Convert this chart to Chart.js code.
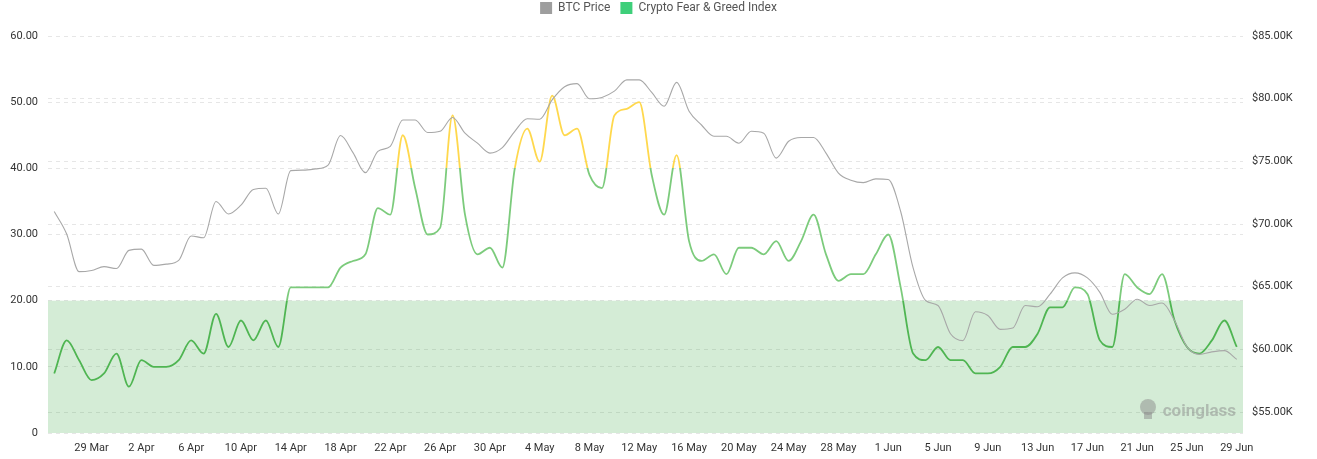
<!DOCTYPE html>
<html>
<head>
<meta charset="utf-8">
<script src="https://cdn.jsdelivr.net/npm/chart.js@4.4.1/dist/chart.umd.min.js"></script>
<style>
    html, body { margin: 0; padding: 0; background: #fff; }
    #wrap { width: 1317px; height: 459px; }
</style>
</head>
<body>
<div id="wrap"><canvas id="chart"></canvas></div>
<script>
// 날짜 (26 Mar ~ 29 Jun, 하루 단위)
const dates = [
    '26 Mar', '27 Mar', '28 Mar', '29 Mar', '30 Mar', '31 Mar',
    '1 Apr', '2 Apr', '3 Apr', '4 Apr', '5 Apr', '6 Apr', '7 Apr', '8 Apr', '9 Apr', '10 Apr',
    '11 Apr', '12 Apr', '13 Apr', '14 Apr', '15 Apr', '16 Apr', '17 Apr', '18 Apr', '19 Apr', '20 Apr',
    '21 Apr', '22 Apr', '23 Apr', '24 Apr', '25 Apr', '26 Apr', '27 Apr', '28 Apr', '29 Apr', '30 Apr',
    '1 May', '2 May', '3 May', '4 May', '5 May', '6 May', '7 May', '8 May', '9 May', '10 May',
    '11 May', '12 May', '13 May', '14 May', '15 May', '16 May', '17 May', '18 May', '19 May', '20 May',
    '21 May', '22 May', '23 May', '24 May', '25 May', '26 May', '27 May', '28 May', '29 May', '30 May', '31 May',
    '1 Jun', '2 Jun', '3 Jun', '4 Jun', '5 Jun', '6 Jun', '7 Jun', '8 Jun', '9 Jun', '10 Jun',
    '11 Jun', '12 Jun', '13 Jun', '14 Jun', '15 Jun', '16 Jun', '17 Jun', '18 Jun', '19 Jun', '20 Jun',
    '21 Jun', '22 Jun', '23 Jun', '24 Jun', '25 Jun', '26 Jun', '27 Jun', '28 Jun', '29 Jun'
];

const fearGreed = [
    9, 14, 11, 8, 9, 12,
    7, 11, 10, 10, 11, 14, 12, 18, 13, 17,
    14, 17, 13, 22, 22, 22, 22, 25, 26, 27,
    34, 33, 45, 37, 30, 31, 48, 33, 27, 28,
    25, 40, 46, 41, 51, 45, 46, 39, 37, 48,
    49, 50, 39, 33, 42, 29, 26, 27, 24, 28,
    28, 27, 29, 26, 29, 33, 27, 23, 24, 24, 27,
    30, 22, 12, 11, 13, 11, 11, 9, 9, 10,
    13, 13, 15, 19, 19, 22, 21, 14, 13, 24,
    22, 21, 24, 17, 13, 12, 14, 17, 13
];

const btcPrice = [
    71000, 69200, 66200, 66300, 66600, 66450,
    67900, 68000, 66700, 66800, 67100, 69050, 68900, 71800, 70800, 71500,
    72750, 72850, 70800, 74260, 74300, 74400, 74700, 77060, 75700, 74100,
    75800, 76200, 78300, 78300, 77300, 77400, 78500, 77250, 76450, 75660,
    76100, 77400, 78400, 78360, 79900, 80950, 81200, 80000, 80100, 80600,
    81500, 81500, 80500, 79400, 81300, 79000, 77900, 77000, 77000, 76450,
    77400, 77250, 75260, 76600, 76900, 76900, 75660, 74070, 73500, 73300, 73600,
    73550, 71000, 66500, 63900, 63500, 61250, 60700, 63000, 62700, 61600,
    61700, 63500, 63400, 64400, 65700, 66100, 65700, 64550, 62800, 63200,
    64000, 63500, 63700, 62300, 60200, 59600, 59800, 59900, 59200
];

const leftTicks = [0, 10, 20, 30, 40, 50, 60];
const rightTicks = [55000, 60000, 65000, 70000, 75000, 80000, 85000];
const fearZone = [0, 20];

const FONT = 'Roboto, "Noto Sans", sans-serif';

// 범례 높이 고정 (차트 영역을 아래로), 범례 자체는 위로
const legendHeightPlugin = {
    id: 'legendHeight',
    beforeLayout(chart) {
        const lg = chart.legend;
        if (lg && !lg._patched) {
            const fit = lg.fit.bind(lg);
            lg.fit = function() { fit(); this.height = 36; };
            lg._patched = true;
        }
    },
    afterLayout(chart) {
        if (chart.legend) chart.legend.top -= 8;
    }
};

// 극단적 공포 구간 (0~20) 배경 + 워터마크
const zonePlugin = {
    id: 'fearZone',
    beforeDatasetsDraw(chart) {
        const { ctx, chartArea, scales } = chart;
        const top = scales.y.getPixelForValue(fearZone[1]);
        const bottom = scales.y.getPixelForValue(fearZone[0]);
        ctx.save();
        ctx.fillStyle = 'rgba(60, 170, 70, 0.22)';
        ctx.fillRect(chartArea.left, top, chartArea.right - chartArea.left, bottom - top);
        ctx.restore();
    },
    afterDraw(chart) {
        const { ctx, chartArea } = chart;
        ctx.save();
        ctx.fillStyle = 'rgba(140, 140, 140, 0.5)';
        ctx.font = 'bold 17px ' + FONT;
        ctx.textAlign = 'right';
        ctx.textBaseline = 'alphabetic';
        ctx.fillText('coinglass', chartArea.right - 7, chartArea.bottom - 17);
        const cx = chartArea.right - 95, cy = chartArea.bottom - 26;
        ctx.beginPath();
        ctx.arc(cx, cy, 8, 0, Math.PI * 2);
        ctx.fill();
        ctx.fillRect(cx - 4, cy + 5, 8, 7);
        ctx.restore();
    }
};

function fgColor(context) {
    const chart = context.chart;
    const { ctx, chartArea, scales } = chart;
    if (!chartArea) return '#6cc46c';
    const h = chartArea.bottom - chartArea.top;
    const f20 = (chartArea.bottom - scales.y.getPixelForValue(20)) / h;
    const f40 = (chartArea.bottom - scales.y.getPixelForValue(40)) / h;
    const g = ctx.createLinearGradient(0, chartArea.bottom, 0, chartArea.top);
    g.addColorStop(0, '#4fb552');
    g.addColorStop(f20, '#4fb552');
    g.addColorStop(f20, '#7ccb7c');
    g.addColorStop(f40, '#7ccb7c');
    g.addColorStop(f40, '#ffd84d');
    g.addColorStop(1, '#ffd84d');
    return g;
}

new Chart(document.getElementById('chart'), {
    type: 'line',
    data: {
        labels: dates,
        datasets: [
            {
                label: 'BTC Price',
                data: btcPrice,
                yAxisID: 'y1',
                borderColor: '#a8a8a8',
                backgroundColor: '#9e9e9e',
                borderWidth: 1.1,
                pointRadius: 0,
                cubicInterpolationMode: 'monotone'
            },
            {
                label: 'Crypto Fear & Greed Index',
                data: fearGreed,
                yAxisID: 'y',
                borderColor: fgColor,
                backgroundColor: '#3ecf7a',
                borderWidth: 1.8,
                pointRadius: 0,
                cubicInterpolationMode: 'monotone'
            }
        ]
    },
    options: {
        responsive: true,
        maintainAspectRatio: false,
        animation: false,
        layout: { padding: 0 },
        plugins: {
            tooltip: { enabled: false },
            legend: {
                position: 'top',
                labels: {
                    boxWidth: 12,
                    boxHeight: 12,
                    padding: 10,
                    color: '#555',
                    font: { family: FONT, size: 12 },
                    generateLabels: (chart) => chart.data.datasets.map((ds, i) => ({
                        text: ds.label,
                        fillStyle: ds.backgroundColor,
                        strokeStyle: ds.backgroundColor,
                        lineWidth: 0,
                        hidden: false,
                        datasetIndex: i,
                        fontColor: '#555'
                    }))
                }
            }
        },
        scales: {
            x: {
                offset: true,
                grid: { display: false },
                border: { display: false },
                afterFit: (scale) => { scale.height = 26; },
                ticks: {
                    autoSkip: false,
                    maxRotation: 0,
                    color: '#333',
                    font: { family: FONT, size: 11 },
                    padding: 1,
                    callback: function(value, index) {
                        return (index - 3) % 4 === 0 ? this.getLabelForValue(value) : null;
                    }
                }
            },
            y: {
                position: 'left',
                min: 0,
                max: 60,
                afterFit: (scale) => { scale.width = 48; },
                afterBuildTicks: (scale) => { scale.ticks = leftTicks.map(v => ({ value: v })); },
                grid: { color: '#e6e6e6', drawTicks: false },
                border: { display: false, dash: [4, 4] },
                ticks: {
                    color: '#333',
                    padding: 10,
                    font: { family: FONT, size: 11 },
                    callback: (v) => v === 0 ? '0' : v.toFixed(2)
                }
            },
            y1: {
                position: 'right',
                min: 53330,
                max: 85000,
                afterFit: (scale) => { scale.width = 74; },
                afterBuildTicks: (scale) => { scale.ticks = rightTicks.map(v => ({ value: v })); },
                grid: { color: '#e6e6e6', drawTicks: false },
                border: { display: false, dash: [4, 4] },
                ticks: {
                    color: '#333',
                    padding: 9,
                    font: { family: FONT, size: 11 },
                    callback: (v) => '$' + (v / 1000).toFixed(2) + 'K'
                }
            }
        }
    },
    plugins: [legendHeightPlugin, zonePlugin]
});
</script>
</body>
</html>
